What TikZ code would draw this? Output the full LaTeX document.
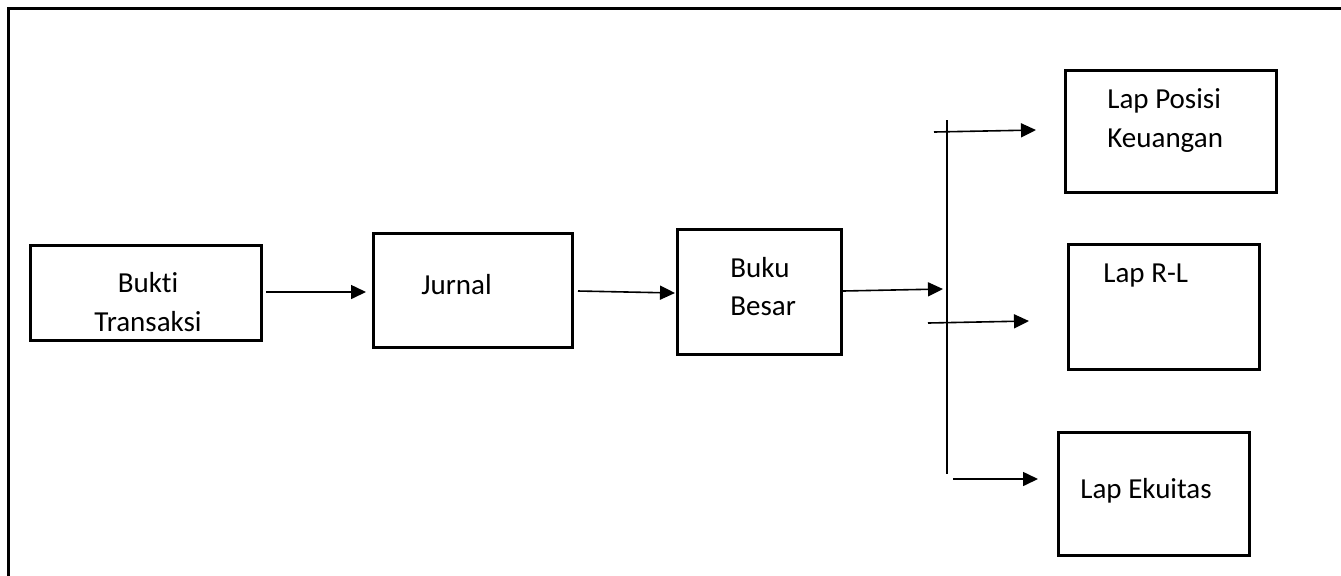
\documentclass[tikz,border=0pt]{standalone}
\usepackage{fontspec}
\setmainfont{Carlito}[Ligatures=NoCommon]
\usetikzlibrary{arrows.meta}
\begin{document}
\begin{tikzpicture}[x=0.5pt,y=-0.5pt,
  box/.style={draw=black,line width=1.5pt,fill=none,inner sep=0pt},
  txt/.style={inner sep=0pt,font=\fontsize{14.5pt}{19.5pt}\selectfont},
  arr/.style={line width=0.8pt,-{Triangle[length=7.5pt,width=7pt]}},
  vline/.style={line width=0.8pt},
  frame/.style={draw=black,line width=1.5pt}]
\useasboundingbox (0,0) rectangle (1341,575);
\clip (0,0) rectangle (1341,575);
\fill[white] (0,0) rectangle (1341,575);
% outer frame (only top and left visible)
\coordinate (fbl) at (8,600);
\coordinate (ftl) at (8,8);
\coordinate (ftr) at (1360,8);
\draw[frame] (fbl) -- (ftl) -- (ftr);
% boxes
\node[box,minimum width=231*0.5pt,minimum height=95*0.5pt] (bukti) at (145.5,292.5) {};
\node[box,minimum width=199*0.5pt,minimum height=114*0.5pt] (jurnal) at (472.5,290) {};
\node[box,minimum width=164*0.5pt,minimum height=125*0.5pt] (buku) at (759,291.5) {};
\node[box,minimum width=211*0.5pt,minimum height=122*0.5pt] (posisi) at (1171,131) {};
\node[box,minimum width=191*0.5pt,minimum height=125*0.5pt] (rl) at (1163.5,306.5) {};
\node[box,minimum width=191*0.5pt,minimum height=123*0.5pt] (ekuitas) at (1153.5,493.5) {};
% texts
\node[txt,anchor=base] (buktiT1) at (148,292) {Bukti};
\node[txt,anchor=base] (buktiT2) at (148,331) {Transaksi};
\node[txt,anchor=base west] (jurnalT) at (421,294) {Jurnal};
\node[txt,anchor=base west] (bukuT1) at (730,277) {Buku};
\node[txt,anchor=base west] (bukuT2) at (730,315) {Besar};
\node[txt,anchor=base west] (posisiT1) at (1107,108) {Lap Posisi};
\node[txt,anchor=base west] (posisiT2) at (1107,147) {Keuangan};
\node[txt,anchor=base west] (rlT) at (1103,282) {Lap R-L};
\node[txt,anchor=base west] (ekuitasT) at (1080,498) {Lap Ekuitas};
% connector coordinates
\coordinate (a1s) at (266,292);
\coordinate (a1e) at (366,292);
\coordinate (a2s) at (578,291);
\coordinate (a2e) at (675,293);
\coordinate (a3s) at (843,291);
\coordinate (a3e) at (943,289);
\coordinate (vtop) at (947,120);
\coordinate (vbot) at (947,474);
\coordinate (b1s) at (934,132);
\coordinate (b1e) at (1036,130);
\coordinate (b2s) at (928,323);
\coordinate (b2e) at (1029,321);
\coordinate (b3s) at (953,479);
\coordinate (b3e) at (1038,479);
% connectors
\draw[arr] (a1s) -- (a1e);
\draw[arr] (a2s) -- (a2e);
\draw[arr] (a3s) -- (a3e);
\draw[vline] (vtop) -- (vbot);
\draw[arr] (b1s) -- (b1e);
\draw[arr] (b2s) -- (b2e);
\draw[arr] (b3s) -- (b3e);
\end{tikzpicture}
\end{document}
